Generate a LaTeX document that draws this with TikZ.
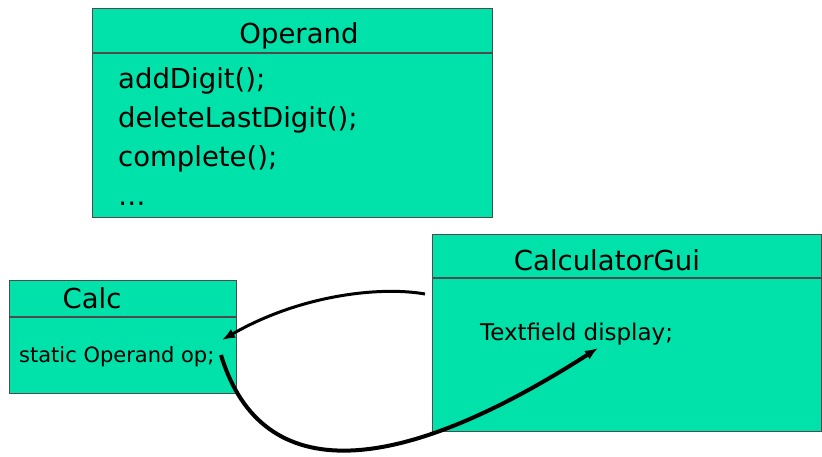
\documentclass[tikz,border=0pt]{standalone}
\usepackage{fontspec}
\setmainfont{DejaVu Sans}
\usetikzlibrary{arrows.meta}
\definecolor{umlgreen}{RGB}{0,226,170}
\tikzset{
  umlbox/.style={draw=black!70, fill=umlgreen, line width=1.3pt, inner sep=0pt, anchor=north west},
  divider/.style={draw=black!70, line width=1.3pt},
  bigtext/.style={font=\fontsize{27.5}{33}\selectfont, inner sep=0pt},
  calltext/.style={font=\fontsize{21}{25}\selectfont, inner sep=0pt, anchor=base west},
  link/.style={line width=3pt, -{Latex[length=13pt,width=10pt]}}
}

\begin{document}
\begin{tikzpicture}[x=1pt, y=-1pt]
      \useasboundingbox (0, 0) rectangle (822, 456);
      % class boxes
      \node[umlbox, minimum width=400pt, minimum height=209pt] (operand) at (92, 8) {};
      \node[umlbox, minimum width=227pt, minimum height=113pt] (calc) at (9, 280) {};
      \node[umlbox, minimum width=389pt, minimum height=197pt] (gui) at (432, 234) {};
      \draw[divider] (92, 53) -- (492, 53)
                     (9, 317) -- (236, 317)
                     (432, 278) -- (821, 278);
      % names
      \node[bigtext, anchor=base] (opname) at (299, 43) {Operand};
      \node[bigtext, anchor=base] (calcname) at (92, 308) {Calc};
      \node[bigtext, anchor=base] (guiname) at (607, 270) {CalculatorGui};
      % members
      \foreach \txt [count=\i] in {addDigit();, deleteLastDigit();, complete();, \dots}
        \node[bigtext, anchor=base west] (m\i) at (118, 49 + 39*\i) {\txt};
      \node[calltext] (opfield) at (19, 362) {static Operand op;};
      \node[calltext, font=\fontsize{23}{27}\selectfont] (display) at (480, 340) {Textfield display;};
      % references
      \coordinate (guiout) at (425, 294);
      \coordinate (opin) at (222, 340);
      \coordinate (opout) at (221, 355);
      \coordinate (dispin) at (598, 348);
      \draw[link] (guiout) .. controls (380, 286) and (300, 295) .. (opin);
      \draw[link, line width=4pt] (opout) .. controls (262, 490) and (400, 475) .. (dispin);
\end{tikzpicture}
\end{document}
